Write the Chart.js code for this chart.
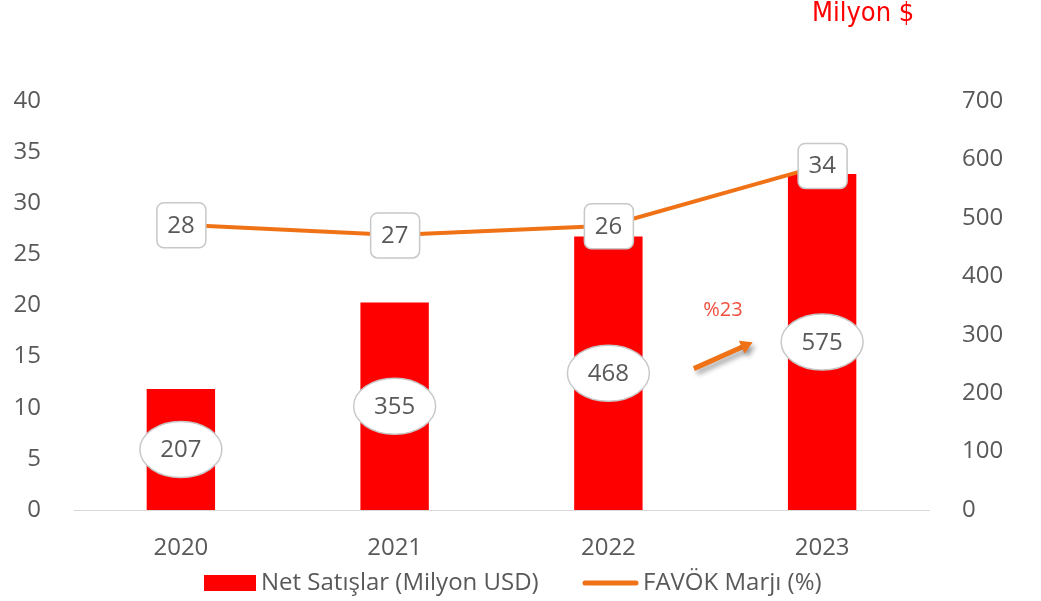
<!DOCTYPE html>
<html>
<head>
<meta charset="utf-8">
<script src="https://cdn.jsdelivr.net/npm/chart.js@4/dist/chart.umd.min.js"></script>
<style>
  html, body { margin: 0; padding: 0; background: #fff; }
  #wrap { position: relative; width: 1041px; height: 601px; }
  #unitLabel {
    position: absolute; left: 812px; top: -4px;
    font-family: "Liberation Sans Narrow", "DejaVu Sans Condensed", "Open Sans", sans-serif;
    font-stretch: condensed; font-size: 27px; color: #ff0000;
  }
</style>
</head>
<body>
<div id="wrap">
  <canvas id="chart" width="1041" height="601"></canvas>
  <div id="unitLabel">Milyon $</div>
</div>
<script>
const years = ["2020", "2021", "2022", "2023"];
const netSales = [207, 355, 468, 575];
const salesLabels = ["207", "355", "468", "575"];
const ebitdaMargin = [27.9, 26.9, 27.8, 33.7];
const marginLabels = ["28", "27", "26", "34"];
const growthText = "%23";

const textColor = "#595959";
const tickFont = { family: "'Open Sans', sans-serif", size: 24 };

function roundRect(ctx, x, y, w, h, r) {
  ctx.beginPath();
  ctx.moveTo(x + r, y);
  ctx.arcTo(x + w, y, x + w, y + h, r);
  ctx.arcTo(x + w, y + h, x, y + h, r);
  ctx.arcTo(x, y + h, x, y, r);
  ctx.arcTo(x, y, x + w, y, r);
  ctx.closePath();
}

const labelPlugin = {
  id: "valueLabels",
  afterDatasetsDraw(chart) {
    const { ctx, scales } = chart;
    ctx.save();
    ctx.font = "24px 'Open Sans', sans-serif";
    ctx.textAlign = "center";
    ctx.textBaseline = "middle";

    // ellipses in the middle of the bars
    netSales.forEach((v, i) => {
      const x = scales.x.getPixelForValue(i);
      const y = scales.y1.getPixelForValue(v / 2);
      ctx.beginPath();
      ctx.ellipse(x, y, 41, 28, 0, 0, Math.PI * 2);
      ctx.fillStyle = "#fff";
      ctx.fill();
      ctx.lineWidth = 1.5;
      ctx.strokeStyle = "#c8c8c8";
      ctx.stroke();
      ctx.fillStyle = textColor;
      ctx.fillText(salesLabels[i], x, y + 1);
    });

    // boxes on the line points
    ebitdaMargin.forEach((v, i) => {
      const x = scales.x.getPixelForValue(i);
      const y = scales.y.getPixelForValue(v);
      roundRect(ctx, x - 24, y - 22, 49, 45, 7);
      ctx.fillStyle = "#fff";
      ctx.fill();
      ctx.lineWidth = 1.5;
      ctx.strokeStyle = "#c8c8c8";
      ctx.stroke();
      ctx.fillStyle = textColor;
      ctx.fillText(marginLabels[i], x, y + 1);
    });

    // growth arrow between 2022 and 2023
    const x0 = scales.x.getPixelForValue(2.4);
    const y0 = scales.y1.getPixelForValue(242);
    const x1 = scales.x.getPixelForValue(2.675);
    const y1 = scales.y1.getPixelForValue(287);
    const ang = Math.atan2(y1 - y0, x1 - x0);
    ctx.shadowColor = "rgba(0,0,0,0.35)";
    ctx.shadowBlur = 5;
    ctx.shadowOffsetX = 3;
    ctx.shadowOffsetY = 4;
    ctx.strokeStyle = "#f07216";
    ctx.fillStyle = "#f07216";
    ctx.lineWidth = 5;
    ctx.beginPath();
    ctx.moveTo(x0, y0);
    ctx.lineTo(x1 - 9 * Math.cos(ang), y1 - 9 * Math.sin(ang));
    ctx.stroke();
    ctx.beginPath();
    ctx.moveTo(x1, y1);
    ctx.lineTo(x1 - 12 * Math.cos(ang) + 7 * Math.sin(ang), y1 - 12 * Math.sin(ang) - 7 * Math.cos(ang));
    ctx.lineTo(x1 - 12 * Math.cos(ang) - 7 * Math.sin(ang), y1 - 12 * Math.sin(ang) + 7 * Math.cos(ang));
    ctx.closePath();
    ctx.fill();
    ctx.shadowColor = "transparent";

    ctx.font = "20px 'Open Sans', sans-serif";
    ctx.fillStyle = "#f04e3e";
    ctx.fillText(growthText, scales.x.getPixelForValue(2.536), scales.y1.getPixelForValue(342));
    ctx.restore();
  }
};

const legendPlugin = {
  id: "bottomLegend",
  afterDraw(chart) {
    const { ctx } = chart;
    const y = 583;
    ctx.save();
    ctx.font = "24px 'Open Sans', sans-serif";
    ctx.textBaseline = "middle";
    ctx.fillStyle = "#ff0000";
    ctx.fillRect(204, y - 8, 52, 16);
    ctx.fillStyle = textColor;
    ctx.fillText(chart.data.datasets[1].label, 261, y);
    ctx.strokeStyle = "#f07216";
    ctx.lineWidth = 5;
    ctx.lineCap = "round";
    ctx.beginPath();
    ctx.moveTo(585, y);
    ctx.lineTo(636, y);
    ctx.stroke();
    ctx.fillText(chart.data.datasets[0].label, 643, y);
    ctx.restore();
  }
};

new Chart(document.getElementById("chart"), {
  data: {
    labels: years,
    datasets: [
      {
        type: "line",
        label: "FAVÖK Marjı (%)",
        data: ebitdaMargin,
        yAxisID: "y",
        borderColor: "#f07216",
        borderWidth: 4,
        pointRadius: 0,
        tension: 0,
        order: 0
      },
      {
        type: "bar",
        label: "Net Satışlar (Milyon USD)",
        data: netSales,
        yAxisID: "y1",
        backgroundColor: "#ff0000",
        categoryPercentage: 1,
        barPercentage: 0.32,
        order: 1
      }
    ]
  },
  options: {
    responsive: false,
    animation: false,
    layout: { padding: { top: 101, bottom: 0, left: 0, right: 0 } },
    plugins: { legend: { display: false }, tooltip: { enabled: false } },
    scales: {
      x: {
        grid: { display: false },
        border: { display: true, color: "#d9d9d9", width: 1 },
        ticks: { color: textColor, font: tickFont, padding: 16 },
        afterFit(scale) { scale.height = 91; }
      },
      y: {
        position: "left",
        min: 0,
        max: 40,
        grid: { display: false },
        border: { display: false },
        ticks: { stepSize: 5, color: textColor, font: tickFont, padding: 25 },
        afterFit(scale) { scale.width = 74; }
      },
      y1: {
        position: "right",
        min: 0,
        max: 700,
        grid: { display: false },
        border: { display: false },
        ticks: { stepSize: 100, color: textColor, font: tickFont, padding: 25 },
        afterFit(scale) { scale.width = 112; }
      }
    }
  },
  plugins: [labelPlugin, legendPlugin]
});
</script>
</body>
</html>
